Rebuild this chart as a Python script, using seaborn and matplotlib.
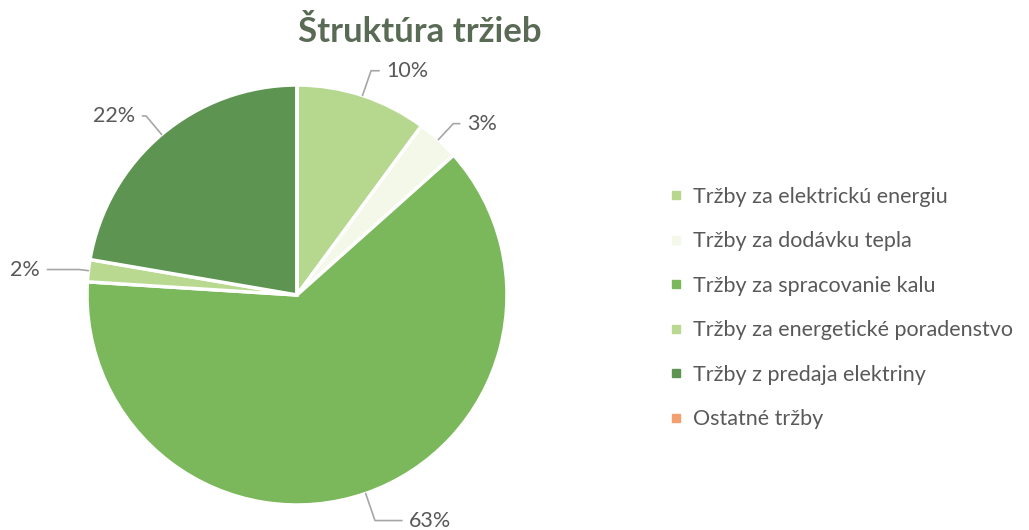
import numpy as np
import matplotlib
matplotlib.use("Agg")
import matplotlib.pyplot as plt
from matplotlib.lines import Line2D
import seaborn as sns

# data
categories = [
    "Tržby za elektrickú energiu",
    "Tržby za dodávku tepla",
    "Tržby za spracovanie kalu",
    "Tržby za energetické poradenstvo",
    "Tržby z predaja elektriny",
    "Ostatné tržby",
]
shares = [10.1, 3.3, 62.6, 1.7, 22.3, 0.0]
colors = ["#b5d78e", "#f3f8e8", "#7bb75b", "#b8d98f", "#5e9451", "#f4a06e"]
title = "Štruktúra tržieb"

sns.set_theme(style="white")
plt.rcParams["font.family"] = ["Lato", "DejaVu Sans"]

fig = plt.figure(figsize=(10.29, 5.30), dpi=100)

# pie centred at ~ (297, 295) px, radius ~210 px
cx, cy, r = 297, 295, 210
ax = fig.add_axes([(cx - r) / 1029, (530 - cy - r) / 530, 2 * r / 1029, 2 * r / 530])

wedges, _ = ax.pie(
    shares,
    colors=colors,
    startangle=90,
    counterclock=False,
    wedgeprops=dict(edgecolor="white", linewidth=2.5),
)
ax.set_xlim(-1, 1)
ax.set_ylim(-1, 1)
ax.set_aspect("equal")

# label placement: (angle shift in degrees, radius) for each visible slice
label_pos = {0: (-3.6, 1.15), 1: (-2.5, 1.15), 2: (7.4, 1.2), 3: (1, 1.23), 4: (2, 1.15)}
text_col = "#595959"
for i, w in enumerate(wedges):
    if shares[i] <= 0:
        continue
    mid = (w.theta1 + w.theta2) / 2
    da, rr = label_pos[i]
    a_edge = np.deg2rad(mid)
    a_txt = np.deg2rad(mid + da)
    x0, y0 = np.cos(a_edge), np.sin(a_edge)
    x1, y1 = rr * np.cos(a_txt), rr * np.sin(a_txt)
    ha = "left" if x1 > 0 else "right"
    ax.annotate(
        f"{round(shares[i]):.0f}%",
        xy=(x0, y0),
        xytext=(x1, y1),
        ha=ha, va="center", fontsize=15.5, color=text_col,
        annotation_clip=False,
        arrowprops=dict(arrowstyle="-", color="#a6a6a6", lw=1.2,
                        shrinkA=3, shrinkB=0,
                        connectionstyle="angle,angleA=0,angleB=%d,rad=0" % (np.degrees(a_edge) % 180)),
    )

fig.text(420 / 1029, 1 - 32 / 530, title, ha="center", va="center",
         fontsize=25, fontweight="bold", color="#5a6b55")

handles = [Line2D([], [], marker="s", linestyle="", markersize=6,
                  markerfacecolor=c, markeredgecolor=c) for c in colors]
fig.legend(handles, categories, loc="center left",
           bbox_to_anchor=(648 / 1029, 1 - 308 / 530), frameon=False,
           fontsize=15.5, labelcolor=text_col, labelspacing=1.14,
           handlelength=0.8, handletextpad=0.4)

fig.savefig("out.png", dpi=100, facecolor="white")
